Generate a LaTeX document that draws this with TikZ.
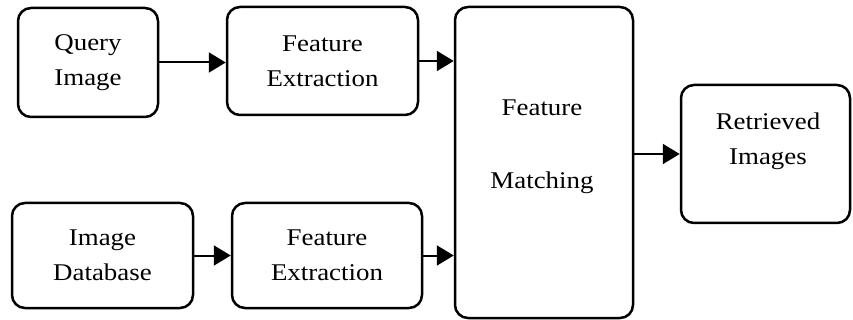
\documentclass[tikz,border=0pt]{standalone}
\usepackage{fontspec}
\setmainfont{Liberation Serif}[FakeStretch=1.12]
\usetikzlibrary{arrows.meta}
\begin{document}
\begin{tikzpicture}[x=1pt,y=-1pt,
  txt/.style={align=center, inner sep=0pt, font=\fontsize{24}{35}\selectfont},
  box/.style={draw, line width=2.5pt, rounded corners=13pt, txt},
  arr/.style={line width=2pt, -{Triangle[length=17pt,width=20pt]}}]
\useasboundingbox (0,0) rectangle (853,320);
\node[box, minimum width=140pt, minimum height=109pt] (qi) at (88,62.5) {Query\\Image};
\node[box, minimum width=191pt, minimum height=108pt] (fe1) at (322.5,61) {Feature\\Extraction};
\node[box, minimum width=181pt, minimum height=105pt] (id) at (102.5,255.5) {Image\\Database};
\node[box, minimum width=190pt, minimum height=105pt] (fe2) at (327,255.5) {Feature\\Extraction};
\node[box, minimum width=178pt, minimum height=311pt] (fm) at (544,162.5) {};
\node[txt] (fmt) at (542,147) {Feature\\[38pt]Matching};
\node[box, minimum width=169pt, minimum height=138pt] (ri) at (765.5,154) {};
\node[txt] (rit) at (768,141) {Retrieved\\Images};
\draw[arr] (qi.east) -- (qi.east -| fe1.west);
\draw[arr] (fe1.east) -- (fe1.east -| fm.west);
\draw[arr] (id.east) -- (id.east -| fe2.west);
\draw[arr] (fe2.east) -- (fe2.east -| fm.west);
\draw[arr] (ri.west -| fm.east) -- (ri.west);
\end{tikzpicture}
\end{document}
